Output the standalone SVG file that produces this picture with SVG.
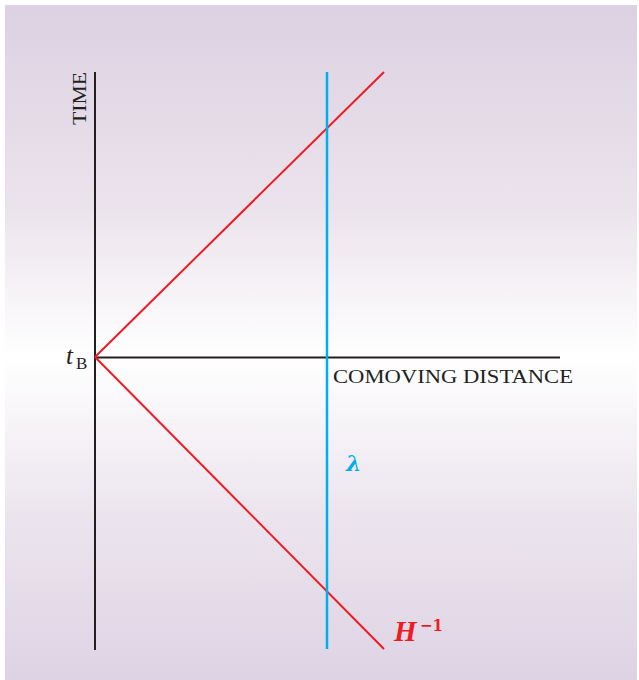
<svg xmlns="http://www.w3.org/2000/svg" width="639" height="680" viewBox="0 0 639 680">
<defs>
<linearGradient id="bg" x1="0" y1="0" x2="0" y2="1">
<stop offset="0" stop-color="#dcd1e2"/>
<stop offset="0.3" stop-color="#ebe3ec"/>
<stop offset="0.52" stop-color="#ffffff"/>
<stop offset="0.75" stop-color="#ece5ee"/>
<stop offset="1" stop-color="#ded3e4"/>
</linearGradient>
<style>
.axis{stroke:#231f20;stroke-width:2;fill:none}
.red{stroke:#ed1c24;stroke-width:2;fill:none}
.blue{stroke:#00aeef;stroke-width:2.5;fill:none}
.lbl{font-family:"Liberation Serif",serif;fill:#231f20}
</style>
</defs>
<rect x="0" y="0" width="639" height="680" fill="#ffffff"/>
<rect x="5" y="5" width="632" height="675" fill="url(#bg)"/>
<g id="connectors">
<line class="axis" x1="95" y1="72" x2="95" y2="650" stroke-width="2.5"/>
<line class="axis" x1="95" y1="357.5" x2="560" y2="357.5"/>
<line class="red" x1="95" y1="357" x2="384" y2="72"/>
<line class="red" x1="95" y1="357" x2="384" y2="649"/>
<line class="blue" x1="327" y1="72" x2="327" y2="649"/>
</g>
<g id="time-label">
<text class="lbl" font-size="19" transform="translate(86,125) rotate(-90)" textLength="53" lengthAdjust="spacingAndGlyphs">TIME</text>
</g>
<g id="tb-label">
<text class="lbl" x="66" y="364" font-size="25" font-style="italic">t</text>
<text class="lbl" x="76" y="369" font-size="17">B</text>
</g>
<g id="distance-label">
<text class="lbl" x="333" y="383" font-size="19.5" textLength="240" lengthAdjust="spacingAndGlyphs">COMOVING DISTANCE</text>
</g>
<g id="lambda-label">
<text x="346" y="471" font-family="'DejaVu Serif',serif" font-size="22" font-weight="bold" font-style="italic" fill="#00aeef">λ</text>
</g>
<g id="h-label" font-weight="bold" fill="#ed1c24">
<text x="394" y="641" font-size="29" font-family="'Liberation Serif',serif" font-style="italic">H</text>
<text x="420" y="631" font-size="17" font-family="'DejaVu Serif',serif" textLength="23" lengthAdjust="spacingAndGlyphs">−1</text>
</g>
</svg>
